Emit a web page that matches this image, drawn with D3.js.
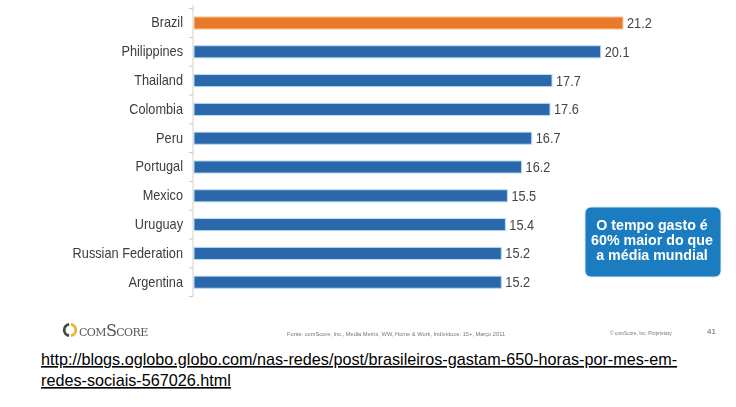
<!DOCTYPE html>
<html>
<head>
<meta charset="utf-8">
<script src="https://cdn.jsdelivr.net/npm/d3@7"></script>
<style>
  html, body { margin: 0; padding: 0; background: #fff; }
  svg { display: block; }
</style>
</head>
<body>
<svg id="chart" width="736" height="407"></svg>
<script>
// Hours per month spent on social networks, by country
const countries = ["Brazil", "Philippines", "Thailand", "Colombia", "Peru",
  "Portugal", "Mexico", "Uruguay", "Russian Federation", "Argentina"];
const hours = [21.2, 20.1, 17.7, 17.6, 16.7, 16.2, 15.5, 15.4, 15.2, 15.2];
const highlighted = "Brazil";

const calloutLines = ["O tempo gasto é", "60% maior do que", "a média mundial"];
const sourceNote = "Fonte: comScore, Inc., Media Metrix, WW, Home & Work, Indivíduos: 15+, Março 2011";
const proprietaryNote = "© comScore, Inc. Proprietary.";
const pageNumber = "41";
const urlLines = ["http://blogs.oglobo.globo.com/nas-redes/post/brasileiros-gastam-650-horas-por-mes-em-",
  "redes-sociais-567026.html"];

const rows = countries.map((c, i) => ({ country: c, value: hours[i] }));

const svg = d3.select("#chart");
const font = "'Liberation Sans', Arial, sans-serif";
const narrow = 0.91; // horizontal squeeze for the slide's condensed lettering

const defs = svg.append("defs");
defs.append("filter").attr("id", "soft")
  .append("feGaussianBlur").attr("stdDeviation", 0.45);

const chart = svg.append("g").attr("filter", "url(#soft)");

const x = d3.scaleLinear().domain([0, 21.2]).range([193, 623]);
const y = d3.scaleBand().domain(countries).range([8.6, 296.6])
  .paddingInner(0.58).paddingOuter(0.29);

// category axis: a thin rule with ticks between the bands
const axisX = x(0);
chart.append("line")
  .attr("x1", axisX).attr("x2", axisX)
  .attr("y1", 5).attr("y2", y.range()[1])
  .attr("stroke", "#d6d2c8").attr("stroke-width", 1);
const boundaries = countries.map(c => y(c) - y.step() * y.paddingInner() / 2)
  .concat([y.range()[1]]);
chart.selectAll("line.sep").data(boundaries).join("line")
  .attr("class", "sep")
  .attr("x1", axisX - 4).attr("x2", axisX)
  .attr("y1", d => d).attr("y2", d => d)
  .attr("stroke", "#cfc9b8").attr("stroke-width", 1);

const yAxis = d3.axisLeft(y).tickSize(0).tickPadding(0);
const gy = chart.append("g").attr("transform", `translate(${axisX},0)`).call(yAxis);
gy.select(".domain").remove();
gy.selectAll("text")
  .attr("x", null)
  .attr("transform", `translate(-10,0) scale(${narrow},1)`)
  .attr("font-family", font).attr("font-size", 14)
  .attr("fill", "#3c3c3c");

// bars
chart.selectAll("rect.bar").data(rows).join("rect")
  .attr("class", "bar")
  .attr("x", x(0) + 1)
  .attr("y", d => y(d.country))
  .attr("width", d => x(d.value) - x(0) - 1)
  .attr("height", y.bandwidth())
  .attr("fill", d => d.country === highlighted ? "#e97a2c" : "#2b68ab")
  .attr("stroke", d => d.country === highlighted ? "#f6cf9f" : "#b9dcf1")
  .attr("stroke-width", 1);

// value labels
chart.selectAll("text.val").data(rows).join("text")
  .attr("class", "val")
  .attr("transform", d => `translate(${x(d.value) + 4},${y(d.country) + y.bandwidth() / 2}) scale(${narrow},1)`)
  .attr("dy", "0.36em")
  .attr("font-family", font).attr("font-size", 14)
  .attr("fill", "#444")
  .text(d => d.value.toFixed(1));

// callout box
const box = chart.append("g").attr("transform", "translate(585,207)");
box.append("rect")
  .attr("width", 136).attr("height", 70).attr("rx", 6)
  .attr("fill", "#1b7cc0").attr("stroke", "#d8e9f3").attr("stroke-width", 1);
box.selectAll("text").data(calloutLines).join("text")
  .attr("transform", (d, i) => `translate(67,${18 + i * 15}) scale(0.95,1)`)
  .attr("dy", "0.36em")
  .attr("text-anchor", "middle")
  .attr("font-family", font).attr("font-size", 15).attr("font-weight", "bold")
  .attr("fill", "#fff")
  .text(d => d);

// footer: comScore logo, source notes, page number
const logo = chart.append("g").attr("transform", "translate(70,330)");
const arc = d3.arc().innerRadius(4.4).outerRadius(7.2);
logo.append("path")
  .attr("d", arc({ startAngle: Math.PI * 1.05, endAngle: Math.PI * 1.95 }))
  .attr("fill", "#4a4a4a");
logo.append("path")
  .attr("d", arc({ startAngle: Math.PI * 0.05, endAngle: Math.PI * 0.95 }))
  .attr("fill", "#e6b531");
chart.append("text")
  .attr("x", 79).attr("y", 336)
  .attr("font-family", "'DejaVu Serif', serif").attr("font-size", 16)
  .attr("font-variant", "small-caps")
  .attr("letter-spacing", -0.6)
  .attr("fill", "#555")
  .text("comScore");

chart.append("text")
  .attr("x", 287).attr("y", 336)
  .attr("font-family", font).attr("font-size", 5.7)
  .attr("fill", "#777")
  .text(sourceNote);
chart.append("text")
  .attr("x", 610).attr("y", 335)
  .attr("font-family", font).attr("font-size", 4.8)
  .attr("fill", "#777")
  .text(proprietaryNote);
chart.append("text")
  .attr("x", 707).attr("y", 334)
  .attr("font-family", font).attr("font-size", 8)
  .attr("fill", "#666")
  .text(pageNumber);

// source link below the chart
svg.selectAll("text.url").data(urlLines).join("text")
  .attr("class", "url")
  .attr("x", 41).attr("y", (d, i) => 365 + i * 21)
  .attr("font-family", font).attr("font-size", 16.2)
  .attr("fill", "#000")
  .attr("text-decoration", "underline")
  .text(d => d);
</script>
</body>
</html>
